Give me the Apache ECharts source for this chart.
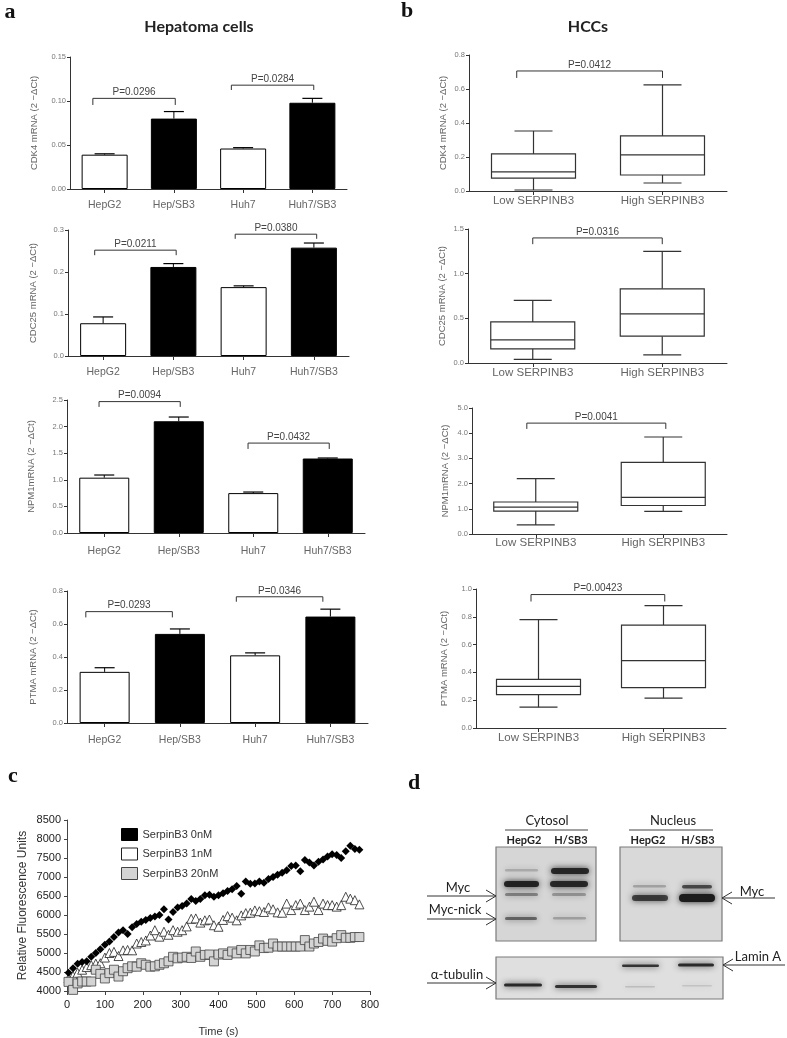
<!DOCTYPE html>
<html><head><meta charset="utf-8">
<script src="https://cdn.jsdelivr.net/npm/echarts/dist/echarts.min.js"></script>
<style>html,body{margin:0;padding:0;background:#fff}#c{width:787px;height:1038px}</style>
</head><body><div id="c"></div>
<script>
// ================= DATA =================
const cellLines = ['HepG2', 'Hep/SB3', 'Huh7', 'Huh7/SB3'];
const cdk4Mean = [0.039, 0.080, 0.046, 0.098];
const cdk4Err = [0.001, 0.008, 0.001, 0.005];
const cdc25Mean = [0.078, 0.212, 0.164, 0.258];
const cdc25Err = [0.015, 0.008, 0.003, 0.011];
const npm1Mean = [1.04, 2.10, 0.75, 1.40];
const npm1Err = [0.05, 0.08, 0.02, 0.01];
const ptmaMean = [0.31, 0.54, 0.41, 0.645];
const ptmaErr = [0.025, 0.03, 0.015, 0.045];

// brackets: [fromCategory, toCategory, top, legEnd]
const cdk4Brackets = [[0, 1, 0.103, 0.0955], [2, 3, 0.118, 0.1125]];
const cdk4P = ['P=0.0296', 'P=0.0284'];
const cdc25Brackets = [[0, 1, 0.252, 0.240], [2, 3, 0.290, 0.279]];
const cdc25P = ['P=0.0211', 'P=0.0380'];
const npm1Brackets = [[0, 1, 2.47, 2.37], [2, 3, 1.69, 1.58]];
const npm1P = ['P=0.0094', 'P=0.0432'];
const ptmaBrackets = [[0, 1, 0.675, 0.64], [2, 3, 0.765, 0.735]];
const ptmaP = ['P=0.0293', 'P=0.0346'];

const cdk4Ticks = [0, 0.05, 0.10, 0.15];
const cdc25Ticks = [0, 0.1, 0.2, 0.3];
const npm1Ticks = [0, 0.5, 1.0, 1.5, 2.0, 2.5];
const ptmaTicks = [0, 0.2, 0.4, 0.6, 0.8];

const serpinGroups = ['Low SERPINB3', 'High SERPINB3'];
// [min, Q1, median, Q3, max]
const hccCdk4 = [[0.006, 0.076, 0.112, 0.218, 0.353], [0.047, 0.094, 0.212, 0.324, 0.624]];
const hccCdc25 = [[0.04, 0.157, 0.258, 0.46, 0.70], [0.09, 0.30, 0.55, 0.83, 1.25]];
const hccNpm1 = [[0.36, 0.91, 1.07, 1.27, 2.2], [0.9, 1.13, 1.45, 2.84, 3.85]];
const hccPtma = [[0.15, 0.24, 0.30, 0.35, 0.78], [0.215, 0.29, 0.485, 0.74, 0.88]];
const hccCdk4Bracket = [[0, 1, 0.706, 0.665]];
const hccCdc25Bracket = [[0, 1, 1.40, 1.33]];
const hccNpm1Bracket = [[0, 1, 4.4, 4.17]];
const hccPtmaBracket = [[0, 1, 0.96, 0.91]];
const hccCdk4P = ['P=0.0412'];
const hccCdc25P = ['P=0.0316'];
const hccNpm1P = ['P=0.0041'];
const hccPtmaP = ['P=0.00423'];
const hccCdk4Ticks = [0, 0.2, 0.4, 0.6, 0.8];
const hccCdc25Ticks = [0, 0.5, 1.0, 1.5];
const hccNpm1Ticks = [0, 1, 2, 3, 4, 5];
const hccPtmaTicks = [0, 0.2, 0.4, 0.6, 0.8, 1.0];

// panel c: kinetics
const timeS = [4, 16, 28, 40, 52, 64, 76, 88, 100, 112,
  124, 136, 148, 160, 172, 184, 196, 208, 220, 232,
  244, 256, 268, 280, 292, 304, 316, 328, 340, 352,
  364, 376, 388, 400, 412, 424, 436, 448, 460, 472,
  484, 496, 508, 520, 532, 544, 556, 568, 580, 592,
  604, 616, 628, 640, 652, 664, 676, 688, 700, 712,
  724, 736, 748, 760, 772];
const rfu0nM = [4480, 4600, 4720, 4760, 4780, 4900, 5000, 5100, 5220, 5300,
  5420, 5540, 5600, 5500, 5680, 5760, 5820, 5870, 5920, 5960,
  6000, 6150, 5880, 6080, 6200, 6240, 6300, 6420, 6370, 6420,
  6520, 6530, 6480, 6520, 6570, 6630, 6680, 6760, 6560, 6880,
  6820, 6830, 6880, 6850, 6950, 7000, 7060, 7110, 7180, 7290,
  7300, 7150, 7450, 7380, 7300, 7400, 7460, 7540, 7600, 7580,
  7500, 7680, 7820, 7740, 7720];
const rfu1nM = [4330, 4400, 4480, 4560, 4630, 4680, 4720, 4730, 4880, 5000,
  5030, 4920, 5070, 5080, 5070, 5250, 5290, 5330, 5460, 5600,
  5430, 5560, 5480, 5600, 5560, 5600, 5700, 5900, 5910, 5800,
  5860, 5880, 5730, 5690, 5870, 5970, 5930, 5860, 5990, 6050,
  6060, 6120, 6100, 6080, 6200, 6150, 6070, 6060, 6300, 6130,
  6260, 6300, 6130, 6220, 6350, 6130, 6300, 6260, 6260, 6220,
  6260, 6480, 6430, 6390, 6280];
const rfu20nM = [4240, 4030, 4200, 4250, 4250, 4250, 4560, 4450, 4330, 4470,
  4560, 4380, 4520, 4600, 4650, 4640, 4730, 4690, 4640, 4650,
  4690, 4730, 4780, 4900, 4860, 4880, 4900, 4870, 5040, 4900,
  4950, 4960, 4780, 4960, 4990, 4950, 5040, 4990, 5080, 4990,
  5080, 5040, 5200, 5130, 5140, 5250, 5170, 5170, 5170, 5170,
  5170, 5170, 5340, 5170, 5250, 5290, 5380, 5320, 5300, 5390,
  5470, 5400, 5400, 5420, 5420];
const timeTicks = [0, 100, 200, 300, 400, 500, 600, 700, 800];
const rfuTicks = [4000, 4500, 5000, 5500, 6000, 6500, 7000, 7500, 8000, 8500];

// ================= STYLE / HELPERS =================
const FONT = "'Liberation Sans', Arial, sans-serif";
const TFONT = "Lato, 'Open Sans', sans-serif";
const AX = '#333';
const BAR_FILL = ['#ffffff', '#000000'];

function catAxis(gi, cats, margin, fs) {
  return {
    type: 'category', gridIndex: gi, data: cats, boundaryGap: true,
    axisLine: { show: true, lineStyle: { color: AX, width: 1 } },
    axisTick: { show: true, alignWithLabel: true, length: 4, lineStyle: { color: AX } },
    axisLabel: { margin: margin, fontSize: fs, color: '#666', fontFamily: FONT, interval: 0 },
    splitLine: { show: false }
  };
}
function valAxis(gi, ticks, dec, name, gap) {
  return {
    type: 'value', gridIndex: gi, min: ticks[0], max: ticks[ticks.length - 1],
    interval: ticks[1] - ticks[0],
    axisLine: { show: true, lineStyle: { color: AX, width: 1 } },
    axisTick: { show: true, length: 3, lineStyle: { color: AX } },
    axisLabel: { fontSize: 7.5, color: '#777', margin: 4, fontFamily: FONT,
      showMinLabel: true, showMaxLabel: true, formatter: v => v.toFixed(dec) },
    splitLine: { show: false },
    name: name, nameLocation: 'middle', nameGap: gap,
    nameTextStyle: { fontSize: 9.5, color: '#666', fontFamily: FONT }
  };
}
function barSeries(gi, means, bw) {
  return {
    type: 'bar', xAxisIndex: gi, yAxisIndex: gi, barWidth: bw,
    data: means.map((v, i) => ({ value: v, itemStyle: { color: BAR_FILL[i % 2] } })),
    itemStyle: { borderColor: '#000', borderWidth: 1 }, silent: true
  };
}
function errSeries(gi, means, errs) {
  return {
    type: 'custom', xAxisIndex: gi, yAxisIndex: gi, z: 5, silent: true,
    data: means.map((m, i) => [i, m, errs[i]]), encode: { x: 0, y: 1 },
    renderItem: function (params, api) {
      const idx = api.value(0), m = api.value(1), e = api.value(2);
      const p0 = api.coord([idx, m]), p1 = api.coord([idx, m + e]);
      return { type: 'group', children: [
        { type: 'line', shape: { x1: p0[0], y1: p0[1], x2: p1[0], y2: p1[1] }, style: { stroke: '#000', lineWidth: 1 } },
        { type: 'line', shape: { x1: p1[0] - 10, y1: p1[1], x2: p1[0] + 10, y2: p1[1] }, style: { stroke: '#000', lineWidth: 1.2 } }
      ] };
    }
  };
}
function bracketSeries(gi, brackets, labels, offL, offR) {
  return {
    type: 'custom', xAxisIndex: gi, yAxisIndex: gi, z: 6, silent: true,
    data: brackets, encode: { x: [0, 1], y: [2, 3] },
    renderItem: function (params, api) {
      const i0 = api.value(0), i1 = api.value(1), top = api.value(2), leg = api.value(3);
      const band = api.size([1, 0])[0];
      const a = api.coord([i0, top]), b = api.coord([i1, top]), l = api.coord([i0, leg]);
      const xL = a[0] + offL * band, xR = b[0] + offR * band, yT = a[1], yL = l[1];
      return { type: 'group', children: [
        { type: 'polyline', shape: { points: [[xL, yL], [xL, yT], [xR, yT], [xR, yL]] },
          style: { stroke: '#333', lineWidth: 1, fill: null } },
        { type: 'text', x: (xL + xR) / 2, y: yT - 1,
          style: { text: labels[params.dataIndex], fill: '#444', fontSize: 10, fontFamily: FONT,
            align: 'center', verticalAlign: 'bottom' } }
      ] };
    }
  };
}
function boxSeries(gi, rows) {
  return {
    type: 'custom', xAxisIndex: gi, yAxisIndex: gi, silent: true,
    data: rows.map((r, i) => [i].concat(r)), encode: { x: 0, y: [1, 2, 3, 4, 5] },
    renderItem: function (params, api) {
      const idx = api.value(0);
      const y = [1, 2, 3, 4, 5].map(k => api.coord([idx, api.value(k)])[1]);
      const x = api.coord([idx, 0])[0];
      const hw = 42, cw = 19;
      const st = { stroke: '#333', lineWidth: 1.2, fill: null };
      return { type: 'group', children: [
        { type: 'line', shape: { x1: x, y1: y[0], x2: x, y2: y[1] }, style: st },
        { type: 'line', shape: { x1: x, y1: y[3], x2: x, y2: y[4] }, style: st },
        { type: 'line', shape: { x1: x - cw, y1: y[0], x2: x + cw, y2: y[0] }, style: st },
        { type: 'line', shape: { x1: x - cw, y1: y[4], x2: x + cw, y2: y[4] }, style: st },
        { type: 'rect', shape: { x: x - hw, y: y[3], width: 2 * hw, height: y[1] - y[3] },
          style: { stroke: '#333', lineWidth: 1.2, fill: '#fff' } },
        { type: 'line', shape: { x1: x - hw, y1: y[2], x2: x + hw, y2: y[2] }, style: st }
      ] };
    }
  };
}

// ================= GRAPHIC (labels + western blot) =================
function txt(text, x, y, size, opts) {
  return { type: 'text', x: x, y: y, silent: true,
    style: Object.assign({ text: text, fill: '#222', fontSize: size, fontFamily: TFONT,
      align: 'center', verticalAlign: 'middle' }, opts || {}) };
}
function ln(x1, y1, x2, y2, w, c) {
  return { type: 'line', silent: true, shape: { x1: x1, y1: y1, x2: x2, y2: y2 },
    style: { stroke: c || '#333', lineWidth: w || 1 } };
}
function band(x, y, w, h, op) {
  return { type: 'rect', silent: true, shape: { x: x, y: y, width: w, height: h, r: h / 2 },
    style: { fill: '#1c1c1c', opacity: op, shadowBlur: 6, shadowColor: 'rgba(20,20,20,0.9)' } };
}
function arrowR(x1, x2, y) { // head at x2 pointing right
  return [ln(x1, y, x2, y, 1, '#333'),
    { type: 'polyline', silent: true, shape: { points: [[x2 - 10, y - 6], [x2, y], [x2 - 10, y + 6]] },
      style: { stroke: '#333', lineWidth: 1, fill: null } }];
}
function arrowL(x1, x2, y) { // head at x1 pointing left
  return [ln(x1, y, x2, y, 1, '#333'),
    { type: 'polyline', silent: true, shape: { points: [[x1 + 10, y - 6], [x1, y], [x1 + 10, y + 6]] },
      style: { stroke: '#333', lineWidth: 1, fill: null } }];
}
const SERIF = "'Liberation Serif', 'DejaVu Serif', serif";
const graphics = [
  txt('a', 10, 12, 22, { fontFamily: SERIF, fontWeight: 'bold', fill: '#111' }),
  txt('b', 407, 11, 22, { fontFamily: SERIF, fontWeight: 'bold', fill: '#111' }),
  txt('c', 13, 776, 22, { fontFamily: SERIF, fontWeight: 'bold', fill: '#111' }),
  txt('d', 414, 783, 22, { fontFamily: SERIF, fontWeight: 'bold', fill: '#111' }),
  txt('Hepatoma cells', 199, 27, 16, { fontWeight: 'bold' }),
  txt('HCCs', 588, 27, 16, { fontWeight: 'bold' }),
  // western blot
  txt('Cytosol', 547, 821, 13),
  ln(505, 830, 588, 830, 1.2, '#444'),
  txt('HepG2', 524, 840, 11, { fontWeight: 'bold' }),
  txt('H/SB3', 571, 840, 11, { fontWeight: 'bold' }),
  txt('Nucleus', 673, 821, 13),
  ln(629, 830, 713, 830, 1.2, '#444'),
  txt('HepG2', 648, 840, 11, { fontWeight: 'bold' }),
  txt('H/SB3', 698, 840, 11, { fontWeight: 'bold' }),
  { type: 'rect', silent: true, shape: { x: 496, y: 847, width: 100, height: 94 },
    style: { fill: '#d6d6d6', stroke: '#7a7a7a', lineWidth: 1.2 } },
  { type: 'rect', silent: true, shape: { x: 620, y: 847, width: 102, height: 94 },
    style: { fill: '#d9d9d9', stroke: '#7a7a7a', lineWidth: 1.2 } },
  { type: 'rect', silent: true, shape: { x: 496, y: 957, width: 227, height: 42 },
    style: { fill: '#dfdfdf', stroke: '#7a7a7a', lineWidth: 1.2 } },
  band(505, 869, 33, 2.5, 0.2), band(504, 881, 35, 6, 0.95), band(505, 893, 33, 3, 0.4), band(505, 917, 32, 3, 0.55),
  band(551, 868, 38, 6, 0.9), band(550, 881, 38, 6, 0.9), band(552, 893, 34, 3, 0.3), band(553, 917, 33, 2.5, 0.25),
  band(633, 885, 33, 2.5, 0.25), band(632, 895, 36, 6, 0.75),
  band(682, 885, 30, 3.5, 0.7), band(679, 894, 36, 8, 1.0),
  band(504, 983.5, 38, 3, 0.9), band(555, 985, 42, 3, 0.85),
  band(622, 964.5, 37, 2.5, 0.85), band(678, 963.5, 36, 3, 0.9),
  band(625, 986, 30, 1.5, 0.15), band(682, 985, 30, 1.5, 0.12),
  txt('Myc', 458, 888, 13),
  txt('Myc-nick', 455, 910, 13),
  txt('\u03b1-tubulin', 457, 975, 13),
  txt('Myc', 752, 892, 13),
  txt('Lamin A', 758, 957, 13)
].concat(arrowR(427, 496, 896), arrowR(427, 496, 919), arrowR(427, 496, 983),
  arrowL(722, 775, 898), arrowL(723, 785, 965));

// ================= OPTION =================
const YN = '(2 \u2212\u0394Ct)';
const option = {
  animation: false,
  backgroundColor: '#fff',
  grid: [
    { left: 70, top: 57, width: 277, height: 132 },
    { left: 68, top: 230, width: 281, height: 126 },
    { left: 67, top: 400, width: 298, height: 133 },
    { left: 67, top: 591, width: 301, height: 132 },
    { left: 469, top: 55, width: 258, height: 136 },
    { left: 468, top: 229, width: 259, height: 134 },
    { left: 472, top: 408, width: 255, height: 126 },
    { left: 476, top: 589, width: 250, height: 139 },
    { left: 67, top: 820, width: 303, height: 171 }
  ],
  xAxis: [
    catAxis(0, cellLines, 11, 10.5),
    catAxis(1, cellLines, 11, 10.5),
    catAxis(2, cellLines, 13, 10.5),
    catAxis(3, cellLines, 12, 10.5),
    catAxis(4, serpinGroups, 4, 11.5),
    catAxis(5, serpinGroups, 4, 11.5),
    catAxis(6, serpinGroups, 3, 11.5),
    catAxis(7, serpinGroups, 4, 11.5),
    {
      type: 'value', gridIndex: 8, min: timeTicks[0], max: timeTicks[timeTicks.length - 1],
      interval: timeTicks[1] - timeTicks[0],
      axisLine: { show: true, lineStyle: { color: '#444' } },
      axisTick: { show: true, length: 4, lineStyle: { color: '#444' } },
      axisLabel: { fontSize: 11, color: '#222', fontFamily: FONT, margin: 8, formatter: v => String(v) },
      splitLine: { show: false },
      name: 'Time (s)', nameLocation: 'middle', nameGap: 35,
      nameTextStyle: { fontSize: 11, color: '#333', fontFamily: FONT }
    }
  ],
  yAxis: [
    valAxis(0, cdk4Ticks, 2, 'CDK4 mRNA ' + YN, 31),
    valAxis(1, cdc25Ticks, 1, 'CDC25 mRNA ' + YN, 30),
    valAxis(2, npm1Ticks, 1, 'NPM1mRNA ' + YN, 31),
    valAxis(3, ptmaTicks, 1, 'PTMA mRNA ' + YN, 29),
    valAxis(4, hccCdk4Ticks, 1, 'CDK4 mRNA ' + YN, 21),
    valAxis(5, hccCdc25Ticks, 1, 'CDC25 mRNA ' + YN, 21),
    valAxis(6, hccNpm1Ticks, 1, 'NPM1mRNA ' + YN, 22),
    valAxis(7, hccPtmaTicks, 1, 'PTMA mRNA ' + YN, 27),
    {
      type: 'value', gridIndex: 8, min: rfuTicks[0], max: rfuTicks[rfuTicks.length - 1],
      interval: rfuTicks[1] - rfuTicks[0],
      axisLine: { show: true, lineStyle: { color: '#444' } },
      axisTick: { show: true, length: 3, lineStyle: { color: '#444' } },
      axisLabel: { fontSize: 11, color: '#222', fontFamily: FONT, margin: 6, showMinLabel: true, showMaxLabel: true,
        formatter: v => String(v) },
      splitLine: { show: false },
      name: 'Relative Fluorescence Units', nameLocation: 'middle', nameGap: 38,
      nameTextStyle: { fontSize: 12, color: '#333', fontFamily: FONT }
    }
  ],
  legend: {
    orient: 'vertical', left: 116, top: 823, itemWidth: 16, itemHeight: 12, itemGap: 6.5,
    selectedMode: false,
    textStyle: { fontSize: 11, color: '#333', fontFamily: FONT },
    data: [
      { name: 'SerpinB3 0nM', icon: 'rect', itemStyle: { color: '#000', borderColor: '#000', borderWidth: 1 } },
      { name: 'SerpinB3 1nM', icon: 'rect', itemStyle: { color: '#fff', borderColor: '#222', borderWidth: 1 } },
      { name: 'SerpinB3 20nM', icon: 'rect', itemStyle: { color: '#d4d4d4', borderColor: '#444', borderWidth: 1 } }
    ]
  },
  series: [
    barSeries(0, cdk4Mean, 46), errSeries(0, cdk4Mean, cdk4Err), bracketSeries(0, cdk4Brackets, cdk4P, -0.17, 0.02),
    barSeries(1, cdc25Mean, 46), errSeries(1, cdc25Mean, cdc25Err), bracketSeries(1, cdc25Brackets, cdc25P, -0.12, 0.04),
    barSeries(2, npm1Mean, 50), errSeries(2, npm1Mean, npm1Err), bracketSeries(2, npm1Brackets, npm1P, -0.07, 0.02),
    barSeries(3, ptmaMean, 50), errSeries(3, ptmaMean, ptmaErr), bracketSeries(3, ptmaBrackets, ptmaP, -0.25, -0.1),
    boxSeries(4, hccCdk4), bracketSeries(4, hccCdk4Bracket, hccCdk4P, -0.13, 0),
    boxSeries(5, hccCdc25), bracketSeries(5, hccCdc25Bracket, hccCdc25P, 0, 0),
    boxSeries(6, hccNpm1), bracketSeries(6, hccNpm1Bracket, hccNpm1P, -0.07, 0.02),
    boxSeries(7, hccPtma), bracketSeries(7, hccPtmaBracket, hccPtmaP, -0.06, 0.01),
    { type: 'scatter', name: 'SerpinB3 1nM', xAxisIndex: 8, yAxisIndex: 8, silent: true,
      data: timeS.map((t, i) => [t, rfu1nM[i]]), symbol: 'triangle', symbolSize: 9,
      itemStyle: { color: '#fff', borderColor: '#222', borderWidth: 0.8, opacity: 1 } },
    { type: 'scatter', name: 'SerpinB3 20nM', xAxisIndex: 8, yAxisIndex: 8, silent: true,
      data: timeS.map((t, i) => [t, rfu20nM[i]]), symbol: 'rect', symbolSize: 9,
      itemStyle: { color: '#d4d4d4', borderColor: '#444', borderWidth: 0.8, opacity: 1 } },
    { type: 'scatter', name: 'SerpinB3 0nM', xAxisIndex: 8, yAxisIndex: 8, silent: true,
      data: timeS.map((t, i) => [t, rfu0nM[i]]), symbol: 'diamond', symbolSize: 8,
      itemStyle: { color: '#000', opacity: 1 } }
  ],
  graphic: graphics
};
const chart = echarts.init(document.getElementById('c'), null, { renderer: 'canvas', width: 787, height: 1038 });
chart.setOption(option);
</script></body></html>
